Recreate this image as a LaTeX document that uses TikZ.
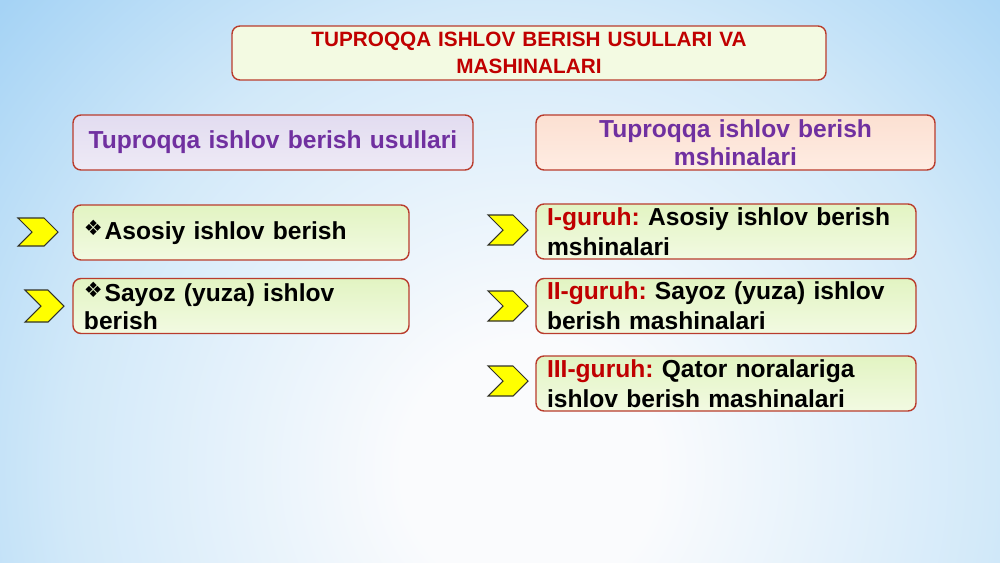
\documentclass[tikz,border=0pt]{standalone}
\usepackage{fontspec}
\setmainfont{Liberation Sans}
\newfontfamily\symfont{DejaVu Sans}
\usetikzlibrary{shapes.symbols}

\definecolor{bgcore}{RGB}{250,251,253}
\definecolor{bgmid}{RGB}{210,233,249}
\definecolor{bgedge}{RGB}{165,211,245}
\definecolor{boxline}{RGB}{185,60,45}
\definecolor{titlefill}{RGB}{243,250,226}
\definecolor{titlered}{RGB}{192,0,0}
\definecolor{headpurple}{RGB}{112,48,160}
\definecolor{lavtop}{RGB}{226,220,240}
\definecolor{lavbot}{RGB}{238,234,246}
\definecolor{peachtop}{RGB}{252,224,210}
\definecolor{peachbot}{RGB}{254,236,226}
\definecolor{greentop}{RGB}{226,244,194}
\definecolor{greenbot}{RGB}{242,250,226}
\definecolor{tagyellow}{RGB}{255,255,0}
\definecolor{tagline}{RGB}{50,50,40}

% inner 25bp is fitted to the path
\pgfdeclareradialshading{slidebg}{\pgfpoint{0bp}{0bp}}{color(0bp)=(bgcore); color(4bp)=(bgcore); color(14.5bp)=(bgmid); color(22bp)=(bgedge); color(50bp)=(bgedge)}

\newcommand{\dia}{{\symfont\fontsize{12}{12}\selectfont\raisebox{2.5pt}{❖}}\kern1pt}
\newcommand{\grp}[1]{\textcolor{titlered}{#1}}

\begin{document}
\frenchspacing
\begin{tikzpicture}[x=0.2mm,y=-0.2mm,
  box/.style={draw=boxline, line width=0.8pt, rounded corners=1.6mm,
    font=\bfseries\fontsize{14}{17}\selectfont, inner ysep=0pt, inner xsep=2.2mm},
  greenbox/.style={box, top color=greentop, bottom color=greenbot,
    align=left, minimum height=11mm},
  arrowtag/.style={signal, signal from=west, signal to=east, fill=tagyellow,
    draw=tagline, line width=0.6pt, inner sep=0pt, minimum width=8mm, minimum height=6mm}]

  % slide background
  \useasboundingbox (0,0) rectangle (1000,562);
  \begin{scope}
    \clip (0,0) rectangle (1000,562);
    \shade[shading=slidebg] (530,470) circle (800);
  \end{scope}

  % title
  \node[box, fill=titlefill, text width=114.4mm, align=center, minimum height=10.8mm,
    font=\bfseries\fontsize{11.8}{15}\selectfont, text=titlered] (title) at (529,53)
    {TUPROQQA ISHLOV BERISH USULLARI VA\\MASHINALARI};

  % headers
  \node[box, top color=lavtop, bottom color=lavbot, text width=75.6mm, align=center,
    minimum height=11mm, text=headpurple] (usul) at (273,142.5)
    {Tuproqqa ishlov berish usullari};
  \node[box, top color=peachtop, bottom color=peachbot, text width=75.4mm, align=center,
    minimum height=11mm, text=headpurple, font=\bfseries\fontsize{14}{16}\selectfont]
    (mash) at (735.5,142.5) {Tuproqqa ishlov berish\\mshinalari};

  % left column
  \node[greenbox, text width=62.8mm] (asosiy) at (241,232.5) {\dia Asosiy ishlov berish};
  \node[greenbox, text width=62.8mm, font=\bfseries\fontsize{14}{16}\selectfont]
    (sayoz) at (241,306) {\dia Sayoz (yuza) ishlov\\berish};

  % right column
  \node[greenbox, text width=71.6mm] (g1) at (726,231.5)
    {\grp{I-guruh:} Asosiy ishlov berish\\mshinalari};
  \node[greenbox, text width=71.6mm] (g2) at (726,306)
    {\grp{II-guruh:} Sayoz (yuza) ishlov\\berish mashinalari};
  \node[greenbox, text width=71.6mm] (g3) at (726,383.5)
    {\grp{III-guruh:} Qator noralariga\\ishlov berish mashinalari};

  % yellow chevrons
  \node[arrowtag, minimum height=5.6mm] (tag1) at (38,232) {};
  \node[arrowtag, minimum height=6.4mm, minimum width=7.8mm] (tag2) at (44.5,306) {};
  \node[arrowtag] (tag3) at (508,230) {};
  \node[arrowtag] (tag4) at (508,306) {};
  \node[arrowtag] (tag5) at (508,381) {};
\end{tikzpicture}
\end{document}
